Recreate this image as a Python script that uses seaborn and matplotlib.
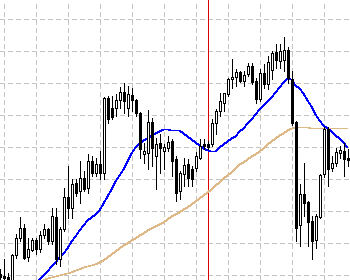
import numpy as np
import pandas as pd
import matplotlib
matplotlib.use("Agg")
import matplotlib.pyplot as plt
import seaborn as sns

sns.set_theme(style="white")
plt.rcParams["font.family"] = ["DejaVu Sans"]
plt.rcParams["lines.antialiased"] = False
plt.rcParams["patch.antialiased"] = False

# bar index (-1 .. 86)
bars = list(range(-1, 87))

opens = [7, 5, 4, -2, 26, 43, 53, 24, 31, 41, 32, 46, 52, 40, 64, 22, 52, 84, 73, 98,
         90, 103, 93, 120, 108, 117, 108, 183, 173, 173, 181, 189, 173, 186, 181, 168, 127, 128, 159, 125,
         138, 130, 133, 140, 122, 90, 107, 117, 112, 113, 123, 137, 137, 137, 158, 170, 178, 187, 202, 204,
         209, 200, 207, 215, 200, 182, 208, 197, 211, 229, 220, 221, 231, 202, 159, 56, 87, 79, 60, 41,
         64, 107, 152, 113, 118, 128, 130, 123]
highs = [12, 22, 8, 27, 47, 64, 57, 43, 43, 43, 50, 57, 53, 73, 73, 54, 93, 115, 102, 102,
         120, 110, 127, 125, 123, 130, 184, 185, 185, 187, 194, 198, 195, 193, 182, 169, 138, 171, 163, 143,
         147, 137, 145, 142, 125, 110, 123, 122, 115, 129, 142, 142, 140, 162, 172, 188, 188, 203, 222, 212,
         210, 210, 218, 218, 203, 212, 217, 225, 230, 237, 237, 244, 234, 210, 160, 97, 118, 80, 65, 67,
         107, 154, 154, 125, 133, 135, 138, 132]
lows = [-4, -4, -5, -6, 23, 40, 22, 20, 30, 27, 29, 43, 37, 37, 17, 15, 50, 63, 63, 85,
        78, 90, 88, 105, 105, 102, 102, 158, 162, 165, 173, 168, 165, 170, 165, 123, 118, 112, 115, 92,
        108, 112, 130, 105, 80, 82, 95, 95, 95, 110, 122, 132, 132, 135, 147, 165, 170, 185, 193, 195,
        199, 195, 205, 197, 178, 180, 193, 192, 202, 213, 213, 210, 198, 156, 40, 35, 65, 35, 22, 33,
        63, 104, 95, 110, 115, 123, 105, 115]
closes = [4, 3, 1, 26, 43, 53, 23, 32, 41, 32, 46, 52, 40, 65, 22, 52, 84, 73, 97, 88,
          103, 92, 120, 108, 117, 108, 183, 162, 164, 181, 189, 180, 187, 181, 168, 132, 130, 159, 133, 137,
          133, 134, 139, 120, 88, 108, 116, 103, 102, 125, 135, 135, 134, 158, 170, 180, 188, 202, 204, 209,
          200, 206, 215, 199, 182, 208, 197, 219, 228, 221, 230, 231, 203, 158, 53, 87, 78, 59, 40, 65,
          106, 152, 112, 118, 129, 131, 122, 121]

nan = np.nan
ma_fast = [nan] * 9 + [-4, 1, 5, 9, 14, 18, 23, 27, 32, 39,
           44, 50, 55, 60, 63, 66, 70, 77, 84, 91,
           99, 105, 111, 119, 127, 133, 137, 140, 142, 145,
           147, 149, 151, 151, 150, 150, 150, 147, 144, 141,
           138, 135, 132, 130, 129, 129, 133, 136, 139, 142,
           144, 149, 152, 157, 161, 166, 171, 175, 179, 183,
           188, 193, 198, 202, 201, 195, 192, 187, 180, 174,
           166, 160, 155, 152, 149, 145, 142, 138, 133]
ma_slow = [nan] * 10 + [-2, 0, 2, 3, 4, 5, 6, 7, 8,
           10, 11, 13, 14, 15, 16, 18, 20, 23, 26,
           29, 32, 35, 37, 40, 42, 45, 47, 50, 52,
           54, 56, 58, 61, 64, 66, 68, 71, 73, 76,
           79, 82, 85, 88, 91, 95, 98, 102, 105, 108,
           112, 116, 118, 121, 124, 126, 129, 132, 136, 139,
           142, 145, 147, 150, 152, 153, 153, 153, 153, 152,
           152, 152, 152, 152, 152, 152, 152, 152, 152]

hgrid = [6, 38, 70, 102, 134, 166, 198, 230, 262]
vgrid = list(range(0, 87, 8))
marker_bar = 51

df = pd.DataFrame({"bar": bars, "open": opens, "high": highs, "low": lows,
                   "close": closes, "fast": ma_fast, "slow": ma_slow})

fig = plt.figure(figsize=(3.5, 2.8), dpi=100)
ax = fig.add_axes([0, 0, 1, 1])
ax.set_facecolor("white")
ax.set_xlim(-0.875, 86.625)
ax.set_ylim(0.5, 280.5)

ax.set_xticks(vgrid)
ax.set_yticks(hgrid)
ax.grid(True, color="#c4c4c4", linestyle=(0, (5, 4)), linewidth=0.6,
        antialiased=False, zorder=0)
ax.set_axisbelow(True)
ax.tick_params(length=0, labelbottom=False, labelleft=False)
for s in ax.spines.values():
    s.set_visible(False)

ax.axvline(marker_bar, color="#dd0000", linewidth=0.6, antialiased=False, zorder=1)

sns.lineplot(data=df, x="bar", y="slow", color="#deb887", linewidth=0.5,
             antialiased=False, ax=ax, zorder=2)
sns.lineplot(data=df, x="bar", y="fast", color="#0000ff", linewidth=0.5,
             antialiased=False, ax=ax, zorder=2)

ax.vlines(df["bar"], df["low"], df["high"], color="black", linewidth=0.6,
          antialiased=False, zorder=3)
up = df["close"] >= df["open"]
bottom = np.minimum(df["open"], df["close"])
height = np.abs(df["close"] - df["open"])
ax.bar(df["bar"], height, bottom=bottom, width=0.5,
       color=np.where(up, "white", "black"), edgecolor="black", linewidth=0.6,
       antialiased=False, zorder=4)

ax.set_xlabel("")
ax.set_ylabel("")
fig.savefig("out.png", dpi=100)
